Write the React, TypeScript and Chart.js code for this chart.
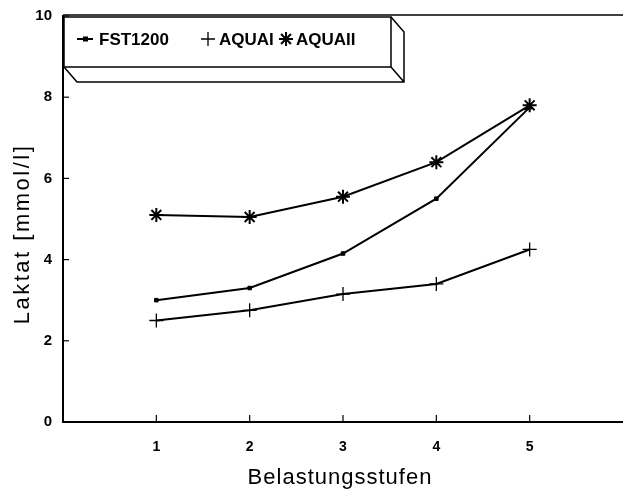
import React, { useEffect, useRef } from 'react';
import { Chart, registerables } from 'chart.js';

Chart.register(...registerables);

const stages = [1, 2, 3, 4, 5];
const fst1200 = [3.0, 3.3, 4.15, 5.5, 7.75];
const aquaI = [2.5, 2.75, 3.15, 3.4, 4.25];
const aquaII = [5.1, 5.05, 5.55, 6.4, 7.8];
const yTicks = [0, 2, 4, 6, 8, 10];
const xTicks = [1, 2, 3, 4, 5];
const seriesNames = ['FST1200', 'AQUAI', 'AQUAII'];
const xTitle = 'Belastungsstufen';
const yTitle = 'Laktat [mmol/l]';

const FONT = "'Liberation Sans', Arial, sans-serif";

const decorPlugin = {
  id: 'decor',
  afterDraw(chart: any) {
    const { ctx, chartArea, scales } = chart;
    const xs = scales.x;
    const ys = scales.y;
    ctx.save();
    ctx.strokeStyle = '#000';
    ctx.fillStyle = '#000';
    // top frame line
    ctx.lineWidth = 1.5;
    ctx.beginPath();
    ctx.moveTo(chartArea.left, chartArea.top - 1);
    ctx.lineTo(chart.width, chartArea.top - 1);
    ctx.stroke();
    // inward ticks
    ctx.lineWidth = 1.2;
    yTicks.forEach((v) => {
      const py = ys.getPixelForValue(v);
      ctx.beginPath();
      ctx.moveTo(chartArea.left, py);
      ctx.lineTo(chartArea.left + 6, py);
      ctx.stroke();
    });
    xTicks.forEach((v) => {
      const px = xs.getPixelForValue(v);
      ctx.beginPath();
      ctx.moveTo(px, chartArea.bottom);
      ctx.lineTo(px, chartArea.bottom - 7);
      ctx.stroke();
    });

    // 3D legend box
    const L = chartArea.left + 1, T = 17, R = 391, B = 67, dx = 13, dy = 15;
    ctx.fillStyle = '#fff';
    ctx.lineWidth = 1.5;
    ctx.beginPath();
    ctx.moveTo(L, T); ctx.lineTo(R, T); ctx.lineTo(R + dx, T + dy); ctx.lineTo(R + dx, B + dy);
    ctx.lineTo(L + dx, B + dy); ctx.lineTo(L, B); ctx.closePath();
    ctx.fill();
    ctx.beginPath();
    ctx.rect(L, T, R - L, B - T);
    ctx.stroke();
    ctx.beginPath();
    ctx.moveTo(R, T); ctx.lineTo(R + dx, T + dy); ctx.lineTo(R + dx, B + dy);
    ctx.lineTo(L + dx, B + dy); ctx.lineTo(L, B);
    ctx.moveTo(R, B); ctx.lineTo(R + dx, B + dy);
    ctx.stroke();

    // legend items
    const ly = 39;
    ctx.fillStyle = '#000';
    ctx.lineWidth = 2;
    ctx.beginPath();
    ctx.moveTo(77, ly); ctx.lineTo(93, ly); ctx.stroke();
    ctx.fillRect(83, ly - 2.5, 5, 5);
    ctx.lineWidth = 1.3;
    ctx.beginPath();
    ctx.moveTo(201, ly); ctx.lineTo(215, ly);
    ctx.moveTo(208, ly - 7); ctx.lineTo(208, ly + 7);
    ctx.stroke();
    ctx.lineWidth = 2;
    ctx.beginPath();
    const r = 7;
    for (let k = 0; k < 4; k++) {
      const a = (Math.PI / 4) * k;
      ctx.moveTo(286 - r * Math.cos(a), ly - r * Math.sin(a));
      ctx.lineTo(286 + r * Math.cos(a), ly + r * Math.sin(a));
    }
    ctx.stroke();
    ctx.font = `bold 17px ${FONT}`;
    ctx.textBaseline = 'middle';
    ctx.textAlign = 'left';
    ctx.fillText(seriesNames[0], 99, ly + 1);
    ctx.fillText(seriesNames[1], 219, ly + 1);
    ctx.fillText(seriesNames[2], 296, ly + 1);

    // axis titles
    ctx.font = `22px ${FONT}`;
    ctx.textAlign = 'center';
    (ctx as any).letterSpacing = '1px';
    ctx.fillText(xTitle, 340, 478);
    (ctx as any).letterSpacing = '2.5px';
    ctx.save();
    ctx.translate(23, 234);
    ctx.rotate(-Math.PI / 2);
    ctx.fillText(yTitle, 0, 0);
    ctx.restore();
    (ctx as any).letterSpacing = '0px';
    ctx.restore();
  },
};

export default function App() {
  const ref = useRef<HTMLCanvasElement>(null);
  useEffect(() => {
    if (!ref.current) return;
    const mk = (arr: number[]) => stages.map((s, i) => ({ x: s, y: arr[i] }));
    const chart = new Chart(ref.current, {
      type: 'line',
      data: {
        datasets: [
          {
            label: seriesNames[0],
            data: mk(fst1200),
            borderColor: '#000',
            backgroundColor: '#000',
            borderWidth: 2,
            pointStyle: 'rect',
            pointRadius: 2.5,
            pointBorderWidth: 1,
          },
          {
            label: seriesNames[1],
            data: mk(aquaI),
            borderColor: '#000',
            backgroundColor: '#000',
            borderWidth: 2,
            pointStyle: 'cross',
            pointRadius: 7,
            pointBorderWidth: 1.3,
          },
          {
            label: seriesNames[2],
            data: mk(aquaII),
            borderColor: '#000',
            backgroundColor: '#000',
            borderWidth: 2,
            pointStyle: 'star',
            pointRadius: 7,
            pointBorderWidth: 2,
          },
        ],
      },
      options: {
        animation: false,
        responsive: false,
        maintainAspectRatio: false,
        layout: { autoPadding: false, padding: { top: 16, right: 0, left: 0, bottom: 0 } },
        plugins: { legend: { display: false }, tooltip: { enabled: false } },
        scales: {
          x: {
            type: 'linear',
            min: 0,
            max: 6,
            afterFit: (s: any) => { s.height = 78; s.paddingLeft = 0; s.paddingRight = 0; },
            afterBuildTicks: (s: any) => { s.ticks = [0, ...xTicks, 6].map((v) => ({ value: v })); },
            ticks: {
              callback: (v: any) => (xTicks.includes(v) ? String(v) : ''),
              color: '#000',
              font: { family: FONT, size: 14, weight: 'bold' },
              padding: 17,
              maxRotation: 0,
              autoSkip: false,
            },
            grid: { display: false, drawTicks: false },
            border: { display: true, color: '#000', width: 2 },
          },
          y: {
            min: 0,
            max: 10,
            afterFit: (s: any) => { s.width = 63; s.paddingTop = 0; s.paddingBottom = 0; },
            afterBuildTicks: (s: any) => { s.ticks = yTicks.map((v) => ({ value: v })); },
            ticks: {
              color: '#000',
              font: { family: FONT, size: 15, weight: 'bold' },
              padding: 11,
            },
            grid: { display: false, drawTicks: false },
            border: { display: true, color: '#000', width: 2 },
          },
        },
      },
      plugins: [decorPlugin],
    } as any);
    return () => chart.destroy();
  }, []);
  return (
    <div style={{ position: 'fixed', left: 0, top: 0, width: 623, height: 500, background: '#fff' }}>
      <canvas ref={ref} width={623} height={500} style={{ display: 'block' }} />
    </div>
  );
}
